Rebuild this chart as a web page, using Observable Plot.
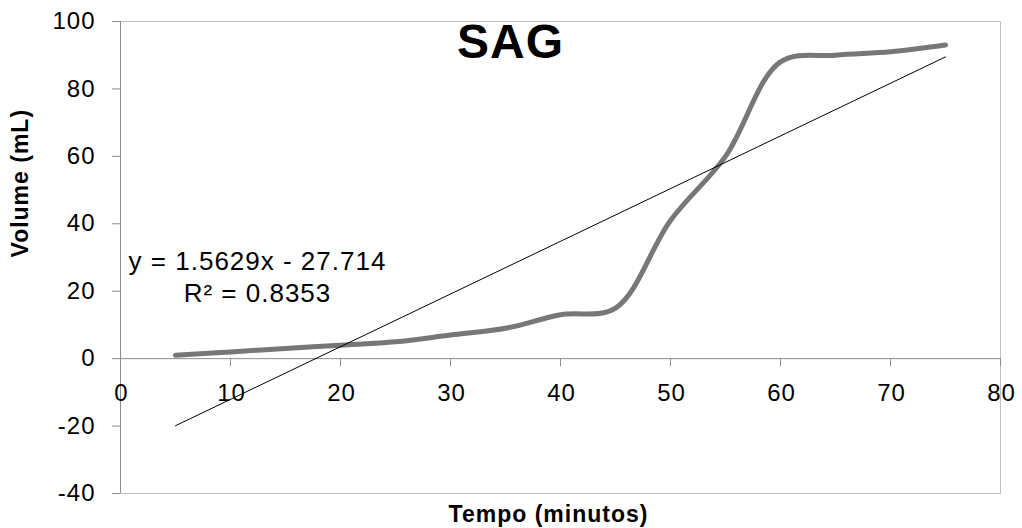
<!DOCTYPE html>
<html>
<head>
<meta charset="utf-8">
<script src="https://cdn.jsdelivr.net/npm/d3@7"></script>
<script src="https://cdn.jsdelivr.net/npm/@observablehq/plot@0.6"></script>
<style>
  html, body { margin: 0; padding: 0; background: #fff; }
  #chart svg { display: block; }
  #chart svg text { letter-spacing: 1px; }
</style>
</head>
<body>
<div id="chart"></div>
<script>
// Data
const times = [5, 10, 15, 20, 25, 30, 35, 40, 45, 50, 55, 60, 65, 70, 75];
const volumes = [1, 2, 3, 4, 5, 7, 9, 13, 15, 41, 60, 88, 90, 91, 93];
const xTicks = [0, 10, 20, 30, 40, 50, 60, 70, 80];
const yTicks = [-40, -20, 0, 20, 40, 60, 80, 100];
const titleText = "SAG";
const xLabel = "Tempo (minutos)";
const yLabel = "Volume (mL)";
const equationLines = ["y = 1.5629x - 27.714", "R² = 0.8353"];

const data = times.map((t, i) => ({t, v: volumes[i]}));
const font = "'Liberation Sans', Arial, sans-serif";
const axisGrey = "#8c8c8c";

const chart = Plot.plot({
  width: 1022,
  height: 528,
  marginLeft: 120,
  marginRight: 22,
  marginTop: 21,
  marginBottom: 35,
  style: {fontFamily: font, background: "#fff", color: "#000"},
  x: {domain: [0, 80], axis: null},
  y: {domain: [-40, 100], axis: null},
  marks: [
    Plot.frame({stroke: "#c0c0c0"}),
    Plot.ruleY([0], {stroke: axisGrey}),
    Plot.ruleX([0], {stroke: axisGrey}),
    Plot.ruleY(yTicks, {y: d => d, x1: () => 0, x2: () => 0, insetLeft: -8, stroke: axisGrey}),
    Plot.text(yTicks, {y: d => d, x: () => 0, dx: -25, textAnchor: "end", text: d => String(d), fontSize: 24, fill: "#000"}),
    Plot.ruleX(xTicks, {x: d => d, y1: () => 0, y2: () => 0, insetBottom: -8, stroke: axisGrey}),
    Plot.text(xTicks, {x: d => d, y: () => 0, dx: 1, dy: 35, text: d => String(d), fontSize: 24, fill: "#000"}),
    Plot.line(data, {x: "t", y: "v", curve: "catmull-rom", stroke: "#777777", strokeWidth: 5, strokeLinecap: "round"}),
    Plot.linearRegressionY(data, {x: "t", y: "v", ci: 0, stroke: "#000", strokeWidth: 1}),
    Plot.text([titleText], {frameAnchor: "top", dx: -50, dy: 2, lineAnchor: "top", fontSize: 48, fontWeight: "bold", fill: "#000"}),
    Plot.text([equationLines.join("\n")], {frameAnchor: "top-left", dx: 137, dy: 254, lineAnchor: "middle", textAnchor: "middle", lineHeight: 1.24, fontSize: 26, fill: "#000"}),
    Plot.text([yLabel], {frameAnchor: "left", rotate: -90, dx: -100, fontSize: 23, fontWeight: "bold", fill: "#000"}),
    Plot.text([xLabel], {frameAnchor: "bottom", dx: -12, dy: 21, lineAnchor: "middle", fontSize: 23, fontWeight: "bold", fill: "#000"})
  ]
});
document.getElementById("chart").appendChild(chart);
</script>
</body>
</html>
